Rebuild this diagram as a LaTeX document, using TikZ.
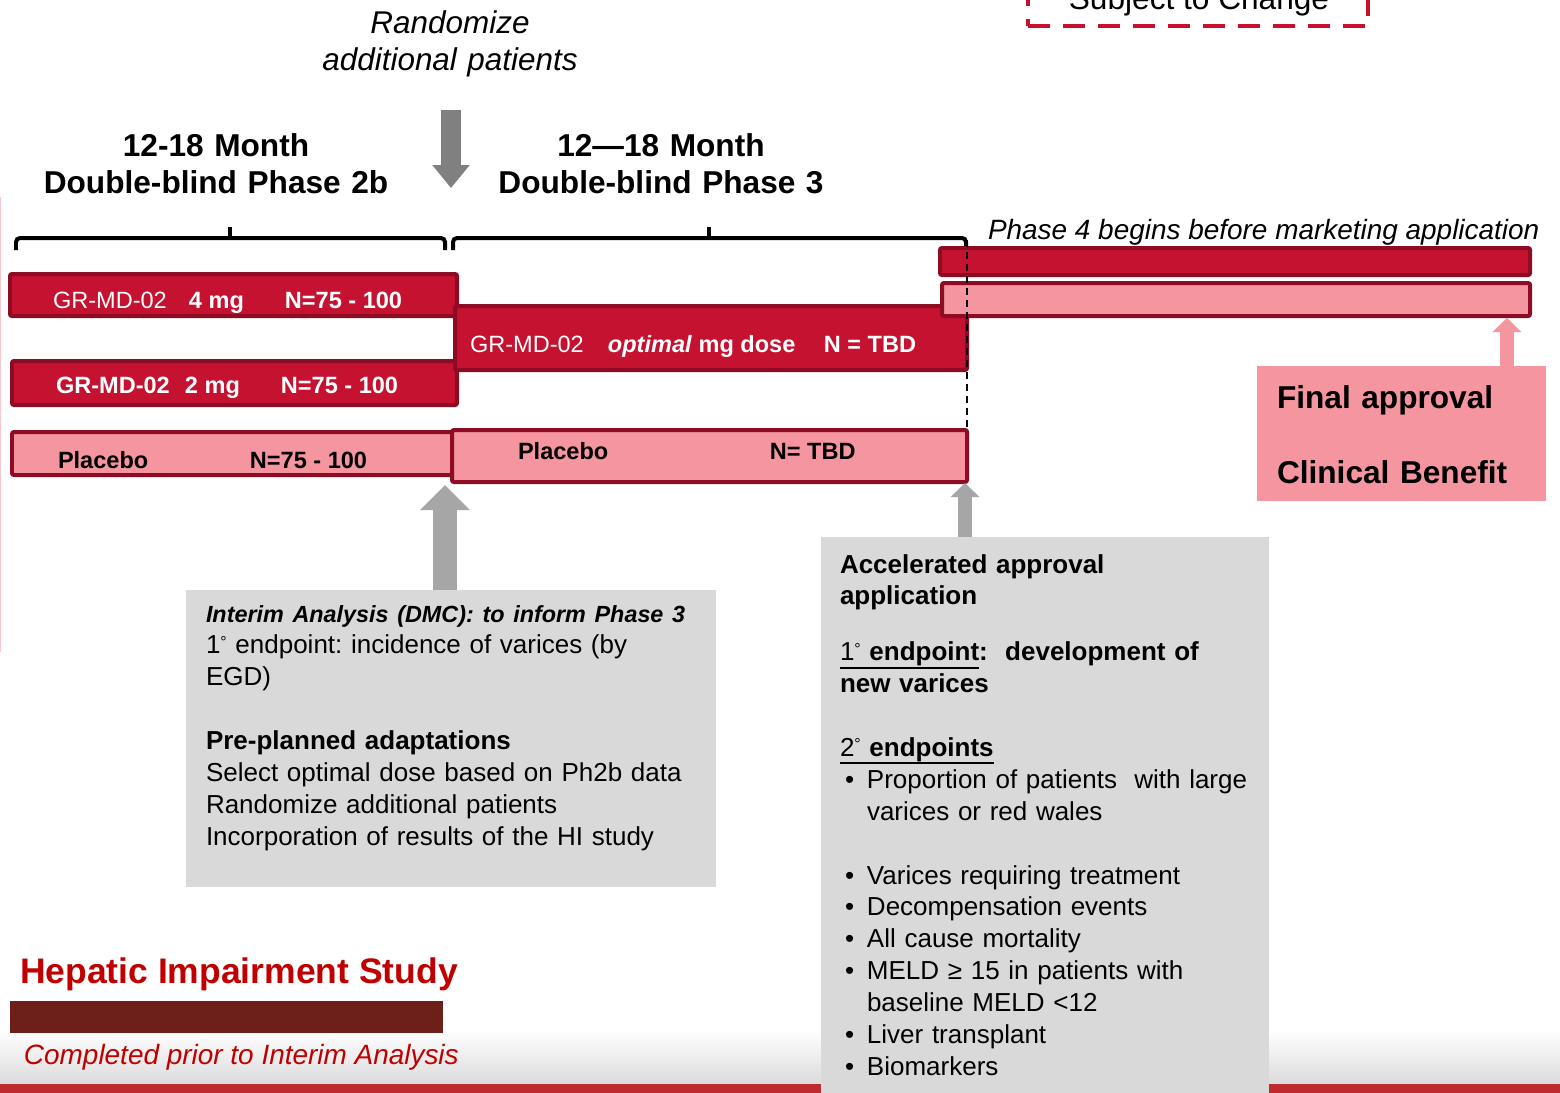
\documentclass[tikz,border=0pt]{standalone}
\usepackage{fontspec}
\setmainfont{Liberation Sans}
\usetikzlibrary{fit,arrows.meta,positioning}
\frenchspacing

\definecolor{barred}{HTML}{C41230}
\definecolor{barrim}{HTML}{8E0C23}
\definecolor{barpink}{HTML}{F4959F}
\definecolor{edgepink}{HTML}{F9C6CD}
\definecolor{boxgray}{HTML}{D9D9D9}
\definecolor{arrowgray}{HTML}{A6A6A6}
\definecolor{darkarrow}{HTML}{808080}
\definecolor{hired}{HTML}{C00000}
\definecolor{hibrown}{HTML}{6D1F1A}
\definecolor{dashred}{HTML}{C8102E}
\definecolor{footred}{HTML}{BF2A2E}

% small raised ring after 1 and 2
\newcommand\degr{\raisebox{0.25em}{\fontsize{9pt}{9pt}\selectfont °}}
% bullet with hanging indent
\newcommand\bul{\makebox[0.54cm][l]{\hspace{0.1cm}\textbullet}}
% heavier underline than \underline
\newcommand\uln[1]{\leavevmode\setbox0=\hbox{#1}\rlap{\rule[-0.3em]{\wd0}{1.1pt}}\copy0}

\begin{document}
\begin{tikzpicture}[x=0.02cm, y=-0.02cm,
  every node/.style={inner sep=0pt, outer sep=0pt},
  redbar/.style={draw=barrim, fill=barred, line width=0.08cm, rounded corners=0.04cm},
  pinkbar/.style={redbar, fill=barpink},
  greybox/.style={fill=boxgray},
  bartext/.style={anchor=base west, font=\fontsize{13.4pt}{16pt}\selectfont},
  boxtext/.style={anchor=base west, text width=10cm, align=left, font=\fontsize{14.8pt}{18.14pt}\selectfont},
  title/.style={anchor=base, text width=9cm, align=center, font=\fontsize{18pt}{21.5pt}\selectfont\bfseries},
  brace/.style={line width=0.08cm, rounded corners=0.08cm},
  bigarrow/.style={arrowgray, line width=0.48cm, -{Triangle[width=0.96cm,length=0.5cm]}},
  smallarrow/.style={arrowgray, line width=0.28cm, -{Triangle[width=0.56cm,length=0.28cm]}},
  downarrow/.style={darkarrow, line width=0.4cm, -{Triangle[width=0.72cm,length=0.46cm]}}]

  \useasboundingbox (0,0) rectangle (1560,1093);

  % footer band
  \shade[top color=white, bottom color=black!14] (0,1030) rectangle (1560,1084);
  \fill[footred] (0,1084) rectangle (1560,1093);
  \draw[edgepink, line width=0.03cm] (0.7,197) -- (0.7,652);

  % subject to change tag
  \node[draw=dashred, line width=0.08cm, dash pattern=on 0.44cm off 0.26cm, fit={(1028,-40) (1368,26)}] (change) {};
  \node[anchor=base, font=\fontsize{18pt}{18pt}\selectfont] (changetxt) at (1199,9) {Subject to Change};

  % headings
  \node[anchor=base, text width=9cm, align=center, font=\fontsize{17.9pt}{21.5pt}\selectfont\itshape] (rand) at (450,33) {Randomize\\additional patients};
  \node[title] (phasetwo) at (216,156) {12-18 Month\\Double-blind Phase 2b};
  \node[title] (phasethree) at (661,156) {12—18 Month\\Double-blind Phase 3};

  % braces
  \draw[brace] (16,250) -- (16,238) -- (445,238) -- (445,250);
  \draw[brace] (230,238) -- (230,227);
  \draw[brace] (453,250) -- (453,238) -- (966,238) -- (966,248);
  \draw[brace] (709,238) -- (709,227);

  % grey boxes
  \node[greybox, fit={(186,590) (716,887)}] (interim) {};
  \node[greybox, fit={(821,537) (1269,1100)}] (accel) {};
  \node[fill=barpink, fit={(1257,366) (1546,501)}] (final) {};

  % arms
  \node[redbar, fit={(10,274) (457,316)}] (dosefour) {};
  \node[redbar, fit={(12,361) (457,405)}] (dosetwo) {};
  \node[pinkbar, fit={(12,432) (452,475)}] (placebotwo) {};
  \node[redbar, fit={(455,306) (967,370)}] (doseopt) {};
  \node[pinkbar, fit={(452,430) (967,482)}] (placebothree) {};
  \node[redbar, fit={(940,248) (1530,275)}] (phasefourtop) {};
  \node[pinkbar, fit={(942,283) (1530,316)}] (phasefourlow) {};

  \node[bartext, text=white] (dosefourtxt) at (53,308) {\makebox[2.72cm][l]{GR-MD-02}\makebox[1.92cm][l]{\bfseries 4 mg}\textbf{N=75 - 100}};
  \node[bartext, text=white, font=\fontsize{13.4pt}{16pt}\selectfont\bfseries] (dosetwotxt) at (56,393) {\makebox[2.58cm][l]{GR-MD-02}\makebox[1.92cm][l]{2 mg}N=75 - 100};
  \node[bartext, font=\fontsize{13.4pt}{16pt}\selectfont\bfseries] (placebotwotxt) at (58,468) {\makebox[3.84cm][l]{Placebo}N=75 - 100};
  \node[bartext, text=white] (doseopttxt) at (470,352) {\makebox[2.76cm][l]{GR-MD-02}\makebox[4.32cm][l]{\textbf{\textit{optimal}} \textbf{mg dose}}\textbf{N = TBD}};
  \node[bartext, font=\fontsize{13.4pt}{16pt}\selectfont\bfseries] (placebothreetxt) at (518,459) {\makebox[5.04cm][l]{Placebo}N= TBD};

  \node[anchor=base west, font=\fontsize{15.9pt}{18pt}\selectfont\itshape] (phasefourtxt) at (988,239) {Phase 4 begins before marketing application};

  % arrows
  \coordinate (randtop) at (451,110);
  \coordinate (randtip) at (451,188);
  \coordinate (iatip) at (445,485);
  \coordinate (aatip) at (965,483);
  \coordinate (fatip) at (1507,318);
  \draw[downarrow] (randtop) -- (randtip);
  \draw[bigarrow] (iatip |- interim.north) -- (iatip);
  \draw[smallarrow] (aatip |- accel.north) -- (aatip);
  \draw[smallarrow, barpink] (fatip |- final.north) -- (fatip);

  \coordinate (dashtop) at (967,240);
  \draw[dash pattern=on 0.14cm off 0.1cm, line width=0.04cm] (dashtop) -- (dashtop |- placebothree.north);

  % box texts
  \node[anchor=base west, text width=6cm, align=left, font=\fontsize{18pt}{21.5pt}\selectfont\bfseries] (finaltxt) at (1277,408) {Final approval\\[0.76cm]Clinical Benefit};

  \node[boxtext] (interimtxt) at (206,622) {{\fontsize{13.3pt}{18.14pt}\selectfont\bfseries\itshape Interim Analysis (DMC): to inform Phase 3}\\
    1\degr\ endpoint: incidence of varices (by\\
    EGD)\\[0.64cm]
    \textbf{Pre-planned adaptations}\\
    Select optimal dose based on Ph2b data\\
    Randomize additional patients\\
    Incorporation of results of the HI study};

  \node[boxtext] (acceltxt) at (840,573) {\textbf{Accelerated approval}\\
    \textbf{application}\\[0.48cm]
    \uln{1\degr\ \textbf{endpoint}}\textbf{:\ \ development of}\\
    \textbf{new varices}\\[0.64cm]
    \uln{2\degr\ \textbf{endpoints}}\\
    \bul Proportion of patients\ \ with large\\
    \hspace*{0.54cm}varices or red wales\\[0.64cm]
    \bul Varices requiring treatment\\
    \bul Decompensation events\\
    \bul All cause mortality\\
    \bul MELD ≥ 15 in patients with\\
    \hspace*{0.54cm}baseline MELD <12\\
    \bul Liver transplant\\
    \bul Biomarkers};

  % hepatic impairment study
  \node[anchor=base west, text=hired, font=\fontsize{20.2pt}{24pt}\selectfont\bfseries] (histitle) at (20,983) {Hepatic Impairment Study};
  \node[fill=hibrown, fit={(10,1001) (443,1033)}] (histudy) {};
  \node[anchor=base west, text=hired, font=\fontsize{15.9pt}{18pt}\selectfont\itshape] (hinote) at (24,1064) {Completed prior to Interim Analysis};
\end{tikzpicture}
\end{document}
